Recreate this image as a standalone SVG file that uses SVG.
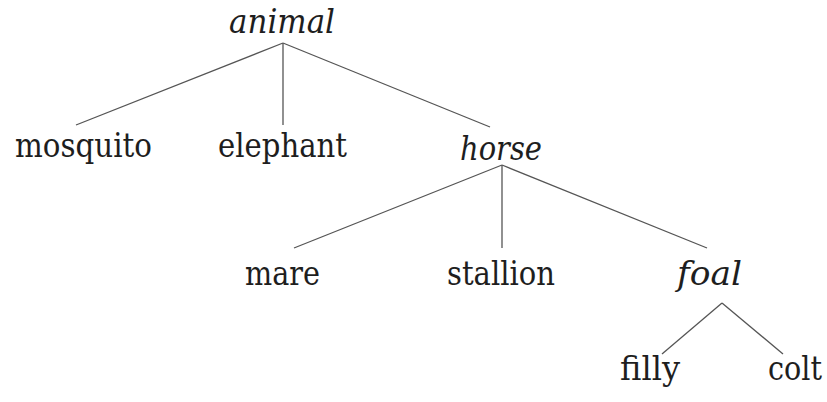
<svg xmlns="http://www.w3.org/2000/svg" width="827" height="402" viewBox="0 0 827 402">
<style>
text{font-family:"DejaVu Serif","Liberation Serif",serif;font-size:34px;fill:#1e1e1e;text-anchor:middle}
.it{font-style:italic}
.edge{stroke:#555;stroke-width:1.3;fill:none}
</style>
<rect width="827" height="402" fill="#fff"/>
<g id="connectors">
<line class="edge" x1="283" y1="43" x2="76" y2="125"/>
<line class="edge" x1="283" y1="43" x2="283" y2="125"/>
<line class="edge" x1="283" y1="43" x2="490" y2="127"/>
<line class="edge" x1="502" y1="165" x2="294" y2="248"/>
<line class="edge" x1="502" y1="165" x2="502" y2="248"/>
<line class="edge" x1="502" y1="165" x2="707" y2="248"/>
<line class="edge" x1="722" y1="303" x2="662" y2="354"/>
<line class="edge" x1="722" y1="303" x2="783" y2="354"/>
</g>
<g id="animal"><text class="it" x="282" y="33" textLength="106" lengthAdjust="spacingAndGlyphs">animal</text></g>
<g id="mosquito"><text x="83.5" y="157" textLength="137" lengthAdjust="spacingAndGlyphs">mosquito</text></g>
<g id="elephant"><text x="282.5" y="157" textLength="129" lengthAdjust="spacingAndGlyphs">elephant</text></g>
<g id="horse"><text class="it" x="501" y="160" textLength="82" lengthAdjust="spacingAndGlyphs">horse</text></g>
<g id="mare"><text x="282.5" y="285" textLength="75" lengthAdjust="spacingAndGlyphs">mare</text></g>
<g id="stallion"><text x="501" y="285" textLength="108" lengthAdjust="spacingAndGlyphs">stallion</text></g>
<g id="foal"><text class="it" x="709.5" y="285" textLength="65" lengthAdjust="spacingAndGlyphs">foal</text></g>
<g id="filly"><text x="650" y="380" textLength="60" lengthAdjust="spacingAndGlyphs">filly</text></g>
<g id="colt"><text x="795" y="380" textLength="54" lengthAdjust="spacingAndGlyphs">colt</text></g>
</svg>
